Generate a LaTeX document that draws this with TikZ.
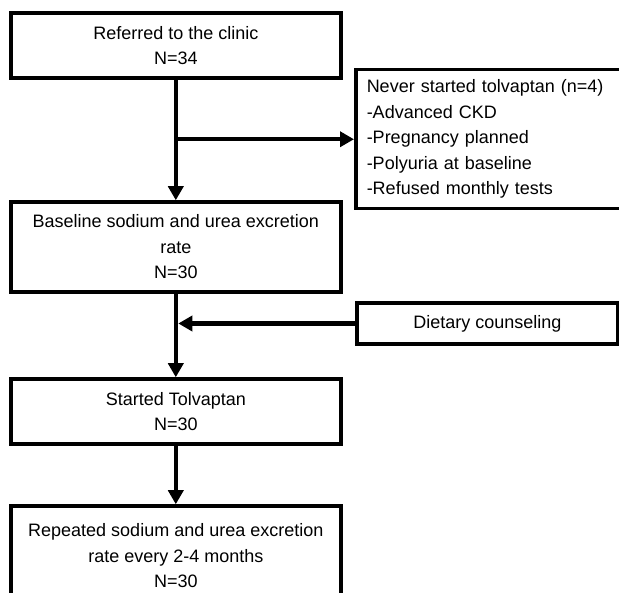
\documentclass[tikz,border=0pt]{standalone}
\usepackage{fontspec}
\setmainfont{Liberation Sans}
\usetikzlibrary{arrows.meta}
\begin{document}
\begin{tikzpicture}[x=1pt,y=-1pt,
  every node/.style={font=\fontsize{18pt}{25.5pt}\selectfont},
  box/.style={draw, line width=3.5pt, inner sep=0pt, align=center},
  flow/.style={line width=4.5pt, -{Triangle[length=14pt,width=15pt]}},
  plain/.style={line width=4.5pt}]
\useasboundingbox (0,0) rectangle (619,593);
\clip (0,0) rectangle (619,593);
\node[box, minimum width=330pt, minimum height=65pt] (b1) at (175.8,45.5) {Referred to the clinic\\N=34};
\node[box, minimum width=330pt, minimum height=90pt] (b2) at (175.8,247) {Baseline sodium and urea excretion\\rate\\N=30};
\node[box, minimum width=330pt, minimum height=65pt] (b3) at (175.8,411.5) {Started Tolvaptan\\N=30};
\node[box, minimum width=330pt, minimum height=100pt] (b4) at (175.8,556) {Repeated sodium and urea excretion\\rate every 2-4 months\\N=30};
\node[box, anchor=north west, align=left, text width=268pt, inner xsep=11pt, minimum height=139pt] (rb) at (354,68)
  {Never started tolvaptan (n=4)\\-Advanced CKD\\-Pregnancy planned\\-Polyuria at baseline\\-Refused monthly tests};
\node[box, line width=3.2pt, minimum width=261pt, minimum height=41pt] (diet) at (487.5,323.5) {Dietary counseling};
\coordinate (j1) at (b1.south |- rb.west);
\coordinate (j2) at ([xshift=2.5pt]b2.south |- diet.west);
\draw[flow] (b1.south) -- (b2.north);
\draw[flow] (j1) -- (rb.west);
\draw[flow] (b2.south) -- (b3.north);
\draw[flow] (diet.west) -- (j2);
\draw[flow] (b3.south) -- (b4.north);
\end{tikzpicture}
\end{document}
